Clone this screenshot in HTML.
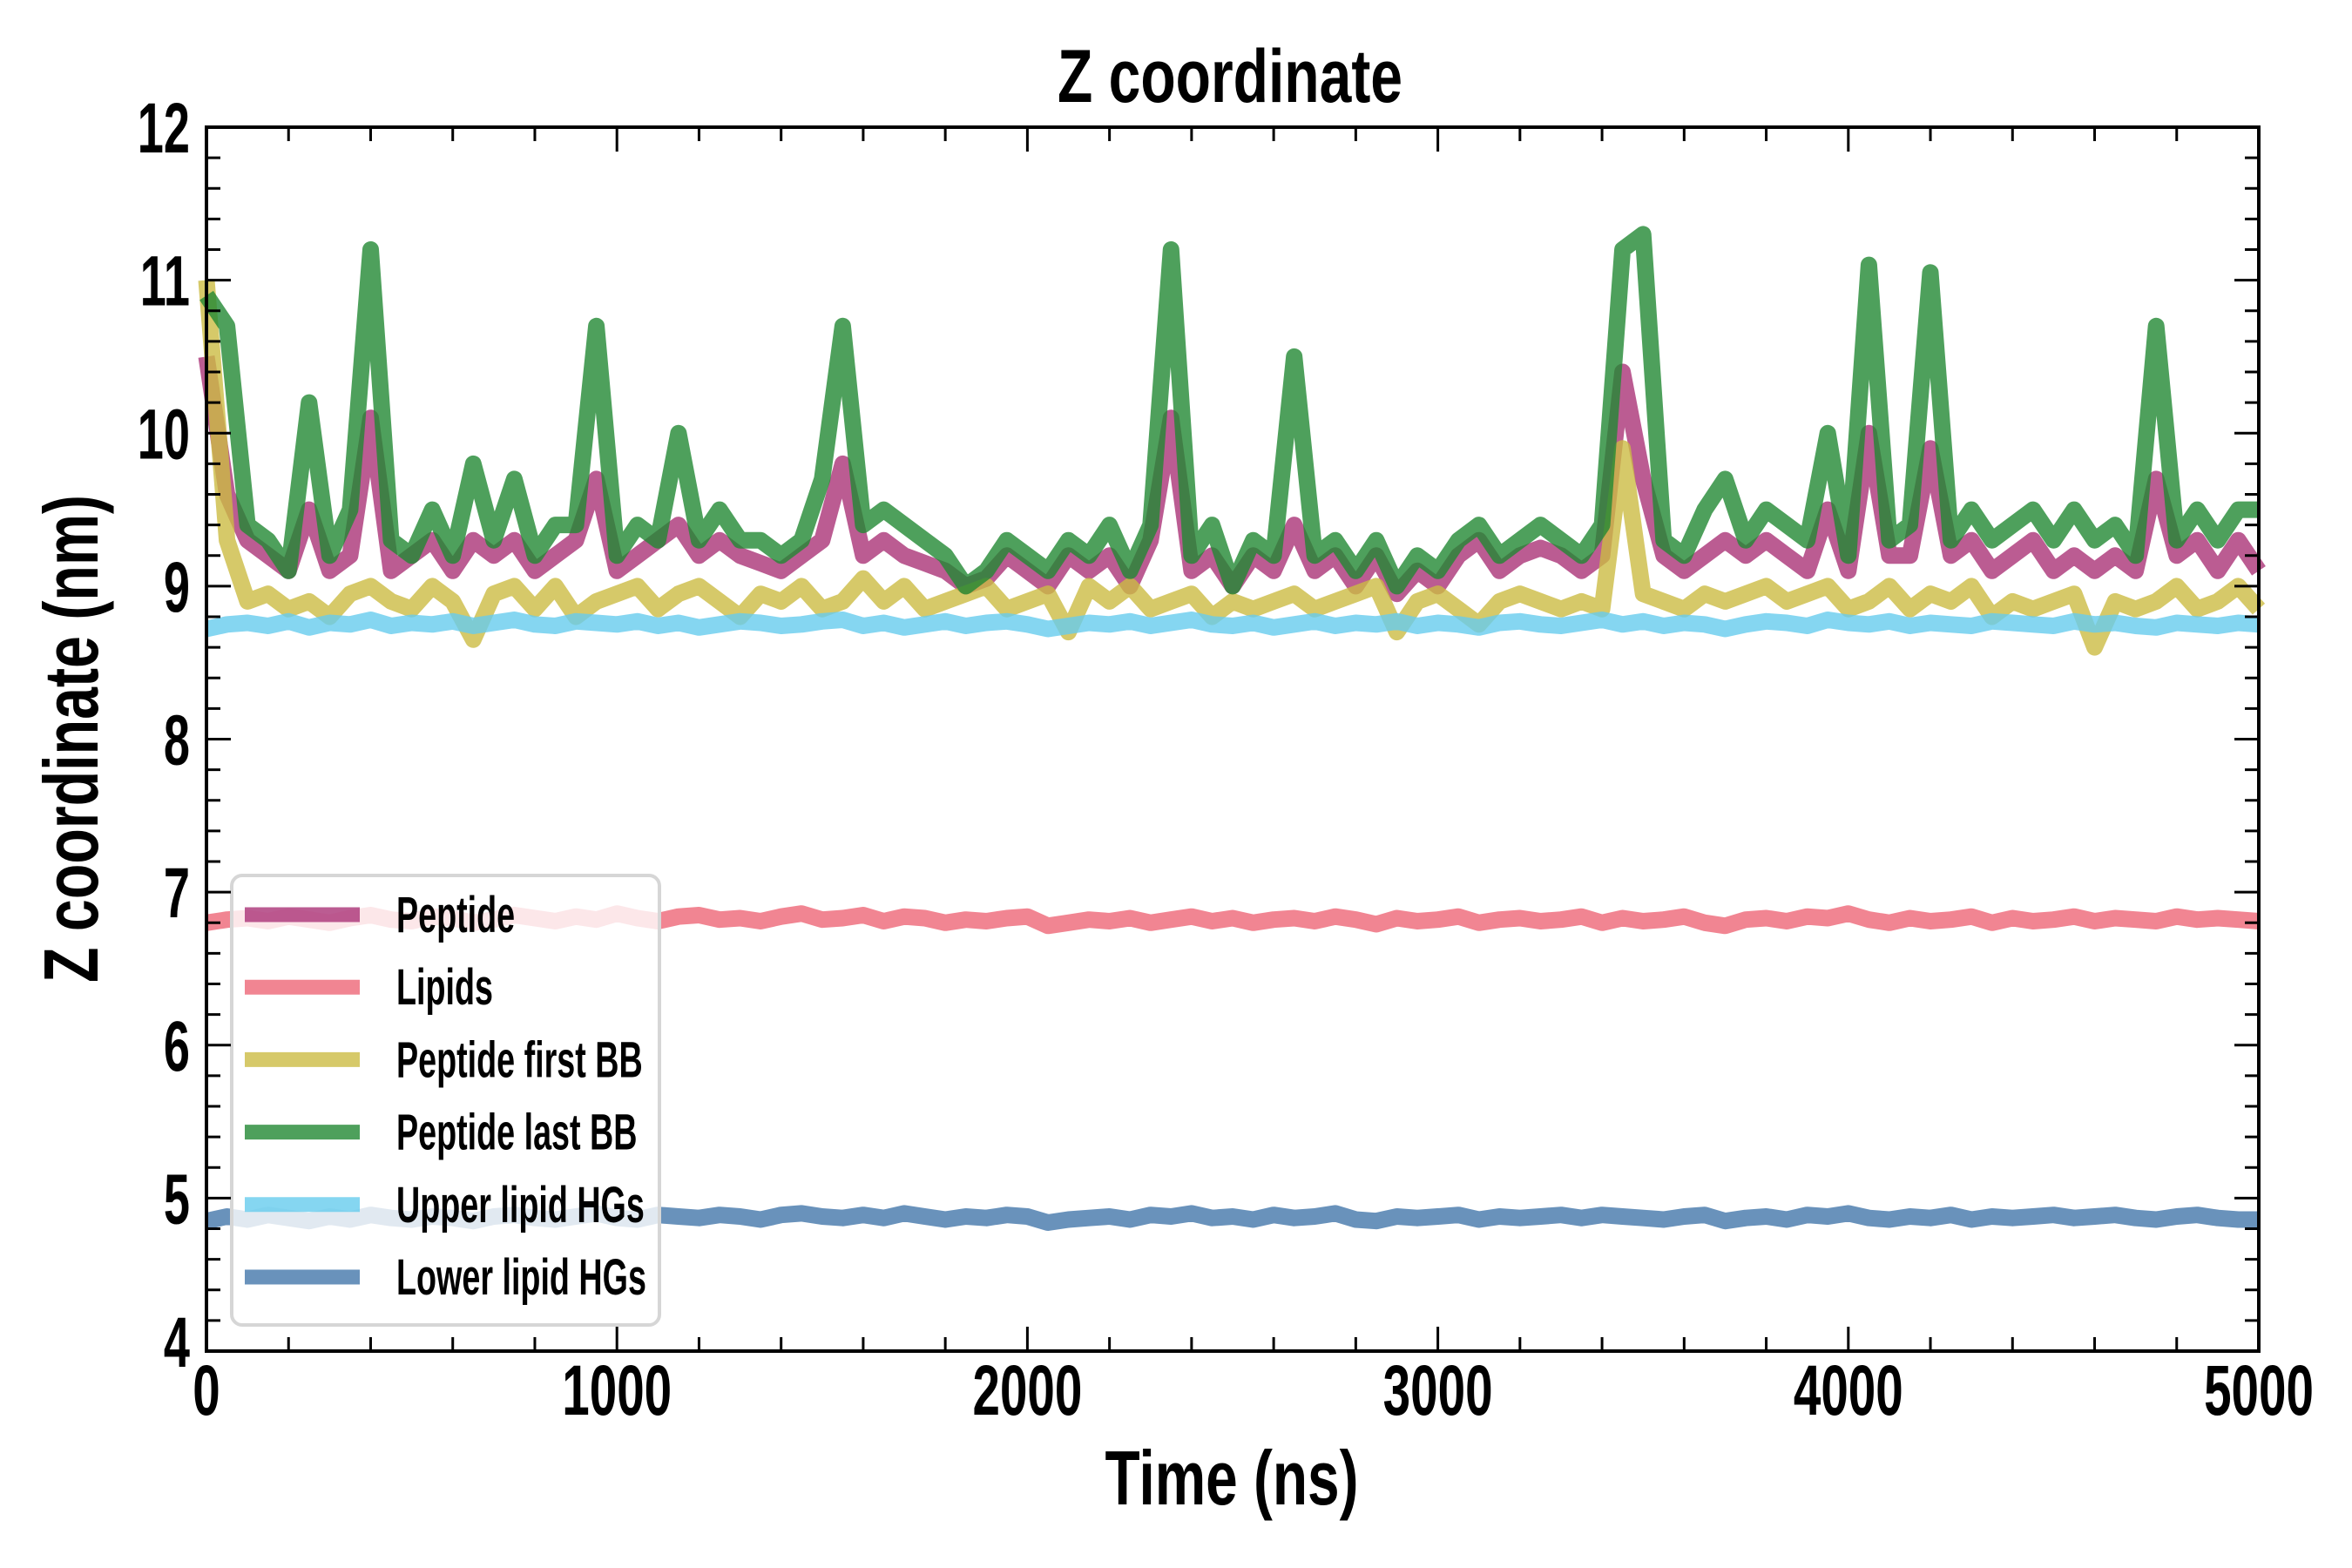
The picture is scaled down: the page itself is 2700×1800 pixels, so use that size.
<!DOCTYPE html>
<html><head><meta charset="utf-8"><style>
html,body{margin:0;padding:0;background:#fff;}
svg{display:block;}
text{font-family:"Liberation Sans Narrow","Liberation Sans",sans-serif;font-weight:bold;fill:#000;}
</style></head><body>
<svg id="chart" width="2700" height="1800" viewBox="0 0 2700 1800" xmlns="http://www.w3.org/2000/svg">
<rect x="0" y="0" width="2700" height="1800" fill="#fff"/>
<g id="series"></g>
<g id="legend"></g>
<g id="axes"></g>
<text x="1412" y="117" text-anchor="middle" font-size="86" textLength="396" lengthAdjust="spacingAndGlyphs">Z coordinate</text>
<text x="1414" y="1727" text-anchor="middle" font-size="88" textLength="291" lengthAdjust="spacingAndGlyphs">Time (ns)</text>
<text transform="translate(112,848) rotate(-90)" x="0" y="0" text-anchor="middle" font-size="88" textLength="560" lengthAdjust="spacingAndGlyphs">Z coordinate (nm)</text>
</svg>
<script>
const seriesNames = ["Peptide","Lipids","Peptide first BB","Peptide last BB","Upper lipid HGs","Lower lipid HGs"];
const peptide = [10.5,9.6,9.3,9.2,9.1,9.5,9.1,9.2,10.1,9.1,9.2,9.3,9.1,9.3,9.2,9.3,9.1,9.2,9.3,9.7,9.1,9.2,9.3,9.4,9.2,9.3,9.2,9.15,9.1,9.2,9.3,9.8,9.2,9.3,9.2,9.15,9.1,9.0,9.05,9.2,9.1,9.0,9.2,9.1,9.2,9.0,9.3,10.1,9.1,9.2,9.0,9.2,9.1,9.4,9.1,9.2,9.0,9.2,8.95,9.1,9.0,9.2,9.3,9.1,9.2,9.25,9.2,9.1,9.2,10.4,9.7,9.2,9.1,9.2,9.3,9.2,9.3,9.2,9.1,9.5,9.1,10.0,9.2,9.2,9.9,9.2,9.3,9.1,9.2,9.3,9.1,9.2,9.1,9.2,9.1,9.7,9.2,9.3,9.1,9.3,9.1];
const lastBB = [10.9,10.7,9.4,9.3,9.1,10.2,9.2,9.5,11.2,9.3,9.2,9.5,9.2,9.8,9.3,9.7,9.2,9.4,9.4,10.7,9.2,9.4,9.3,10.0,9.3,9.5,9.3,9.3,9.2,9.3,9.7,10.7,9.4,9.5,9.4,9.3,9.2,9.0,9.1,9.3,9.2,9.1,9.3,9.2,9.4,9.1,9.4,11.2,9.2,9.4,9.0,9.3,9.2,10.5,9.2,9.3,9.1,9.3,9.0,9.2,9.1,9.3,9.4,9.2,9.3,9.4,9.3,9.2,9.4,11.2,11.3,9.3,9.2,9.5,9.7,9.3,9.5,9.4,9.3,10.0,9.2,11.1,9.3,9.4,11.05,9.3,9.5,9.3,9.4,9.5,9.3,9.5,9.3,9.4,9.2,10.7,9.3,9.5,9.3,9.5,9.5];
const firstBB = [11.0,9.3,8.9,8.95,8.85,8.9,8.8,8.95,9.0,8.9,8.85,9.0,8.9,8.65,8.95,9.0,8.85,9.0,8.8,8.9,8.95,9.0,8.85,8.95,9.0,8.9,8.8,8.95,8.9,9.0,8.85,8.9,9.05,8.9,9.0,8.85,8.9,8.95,9.0,8.85,8.9,8.95,8.7,9.0,8.9,9.0,8.85,8.9,8.95,8.8,8.9,8.85,8.9,8.95,8.85,8.9,8.95,9.0,8.7,8.9,8.95,8.85,8.75,8.9,8.95,8.9,8.85,8.9,8.85,9.9,8.95,8.9,8.85,8.95,8.9,8.95,9.0,8.9,8.95,9.0,8.85,8.9,9.0,8.85,8.95,8.9,9.0,8.8,8.9,8.85,8.9,8.95,8.6,8.9,8.85,8.9,9.0,8.85,8.9,9.0,8.85];
const upperHG = [8.72,8.75,8.76,8.74,8.77,8.73,8.76,8.75,8.78,8.74,8.76,8.75,8.77,8.74,8.76,8.78,8.75,8.74,8.77,8.76,8.75,8.77,8.74,8.76,8.73,8.75,8.77,8.76,8.74,8.75,8.77,8.78,8.74,8.76,8.73,8.75,8.77,8.74,8.76,8.77,8.75,8.72,8.74,8.76,8.75,8.77,8.74,8.76,8.78,8.75,8.74,8.76,8.73,8.75,8.77,8.74,8.76,8.75,8.77,8.74,8.76,8.75,8.73,8.76,8.77,8.75,8.74,8.76,8.78,8.75,8.77,8.74,8.76,8.75,8.72,8.75,8.77,8.76,8.74,8.78,8.76,8.75,8.77,8.74,8.76,8.75,8.74,8.77,8.76,8.75,8.74,8.77,8.75,8.76,8.74,8.73,8.76,8.75,8.74,8.76,8.75];
const lipids = [6.80,6.82,6.83,6.81,6.84,6.82,6.80,6.83,6.85,6.82,6.81,6.84,6.83,6.80,6.82,6.85,6.83,6.81,6.84,6.82,6.86,6.83,6.81,6.84,6.85,6.82,6.83,6.81,6.84,6.86,6.82,6.83,6.85,6.81,6.84,6.83,6.80,6.82,6.81,6.83,6.84,6.78,6.80,6.82,6.81,6.83,6.80,6.82,6.84,6.81,6.83,6.80,6.82,6.83,6.81,6.84,6.82,6.79,6.83,6.81,6.82,6.84,6.80,6.82,6.83,6.81,6.82,6.84,6.80,6.83,6.81,6.82,6.84,6.80,6.78,6.82,6.83,6.81,6.84,6.83,6.86,6.82,6.80,6.83,6.81,6.82,6.84,6.80,6.83,6.81,6.82,6.84,6.81,6.83,6.82,6.81,6.84,6.82,6.83,6.82,6.81];
const lowerHG = [4.85,4.88,4.86,4.89,4.87,4.85,4.88,4.86,4.89,4.87,4.86,4.88,4.87,4.85,4.88,4.89,4.87,4.86,4.88,4.90,4.87,4.86,4.89,4.88,4.87,4.89,4.88,4.86,4.89,4.90,4.88,4.87,4.89,4.87,4.90,4.88,4.86,4.88,4.87,4.89,4.88,4.84,4.86,4.87,4.88,4.86,4.89,4.88,4.90,4.87,4.88,4.86,4.89,4.87,4.88,4.90,4.86,4.85,4.88,4.87,4.88,4.89,4.86,4.88,4.87,4.88,4.89,4.87,4.89,4.88,4.87,4.86,4.88,4.89,4.85,4.87,4.88,4.86,4.89,4.88,4.90,4.87,4.86,4.88,4.87,4.89,4.86,4.88,4.87,4.88,4.89,4.87,4.88,4.89,4.87,4.86,4.88,4.89,4.87,4.86,4.86];
const timeStep = 50;
const xTickValues = [0,1000,2000,3000,4000,5000];
const xTickLabels = ["0","1000","2000","3000","4000","5000"];
const yTickValues = [4,5,6,7,8,9,10,11,12];
const yTickLabels = ["4","5","6","7","8","9","10","11","12"];

const L=237,R=2593,T=146,B=1551;
const xMin=0,xMax=5000,yMin=4,yMax=12;
const sx=v=>L+(v-xMin)/(xMax-xMin)*(R-L);
const sy=v=>B-(v-yMin)/(yMax-yMin)*(B-T);
const NS="http://www.w3.org/2000/svg";
function mk(tag,parent){const e=document.createElementNS(NS,tag);parent.appendChild(e);return e;}

const colors=["#AA3377","#EE6677","#CCBB44","#228833","#66CCEE","#4477AA"];
const slugs=["peptide","lipids","peptide-first-bb","peptide-last-bb","upper-lipid-hgs","lower-lipid-hgs"];
const allSeries=[peptide,lipids,firstBB,lastBB,upperHG,lowerHG];
const sg=document.getElementById('series');
allSeries.forEach((vals,k)=>{
  const p=mk('path',sg);
  let d='';
  vals.forEach((v,i)=>{d+=(i?'L':'M')+sx(i*timeStep).toFixed(1)+','+sy(v).toFixed(1);});
  p.setAttribute('d',d);
  p.setAttribute('fill','none');
  p.setAttribute('stroke',colors[k]);
  p.setAttribute('stroke-opacity','0.8');
  p.setAttribute('stroke-width','19');
  p.setAttribute('stroke-linejoin','round');
  p.setAttribute('stroke-linecap','butt');
  
  
});

// legend
const lg=document.getElementById('legend');
const box=mk('rect',lg);
box.setAttribute('x',266);box.setAttribute('y',1005);box.setAttribute('width',491);box.setAttribute('height',516);
box.setAttribute('rx',12);box.setAttribute('fill','#fff');box.setAttribute('fill-opacity','0.8');
box.setAttribute('stroke','#d6d6d6');box.setAttribute('stroke-width','4');


seriesNames.forEach((n,k)=>{
  const cy=1050+k*83.2;
  const g=mk('g',lg);
  
  
  const h=mk('line',g);
  h.setAttribute('x1',281);h.setAttribute('x2',413);h.setAttribute('y1',cy);h.setAttribute('y2',cy);
  h.setAttribute('stroke',colors[k]);h.setAttribute('stroke-opacity','0.8');h.setAttribute('stroke-width','17');
  
  
  const t=mk('text',g);
  t.setAttribute('transform','translate(455,'+(cy+20)+') scale(0.65,1)');
  t.setAttribute('font-size','58');
  t.textContent=n;
  
  
});

// axes
const ax=document.getElementById('axes');
const fr=mk('rect',ax);
fr.setAttribute('x',L);fr.setAttribute('y',T);fr.setAttribute('width',R-L);fr.setAttribute('height',B-T);
fr.setAttribute('fill','none');fr.setAttribute('stroke','#000');fr.setAttribute('stroke-width','4');


function tick(x1,y1,x2,y2,name){const l=mk('line',ax);l.setAttribute('x1',x1);l.setAttribute('y1',y1);l.setAttribute('x2',x2);l.setAttribute('y2',y2);l.setAttribute('stroke','#000');l.setAttribute('stroke-width','3');
  
  }
for(let v=0;v<=5000;v+=200){
  const major=v%1000===0, len=major?28:16, x=sx(v);
  if(v>0&&v<5000){tick(x,B,x,B-len,'x-tick');tick(x,T,x,T+len,'x-tick-top');}
}
for(let v=4;v<=12.001;v+=0.2){
  const r=Math.round(v*10)/10, major=Math.abs(r-Math.round(r))<1e-6, len=major?28:16, y=sy(r);
  if(r>4&&r<12){tick(L,y,L+len,y,'y-tick');tick(R,y,R-len,y,'y-tick-right');}
}
xTickValues.forEach((v,i)=>{
  const t=mk('text',ax);
  t.setAttribute('transform','translate('+sx(v)+',1624) scale(0.69,1)');
  t.setAttribute('text-anchor','middle');t.setAttribute('font-size','82');
  t.textContent=xTickLabels[i];
  
  
});
yTickValues.forEach((v,i)=>{
  const t=mk('text',ax);
  const yy = v===4 ? sy(v)+18 : sy(v)+29;
  t.setAttribute('transform','translate(218,'+yy+') scale(0.66,1)');
  t.setAttribute('text-anchor','end');t.setAttribute('font-size','82');
  t.textContent=yTickLabels[i];
  
  
});
</script>
</body></html>
